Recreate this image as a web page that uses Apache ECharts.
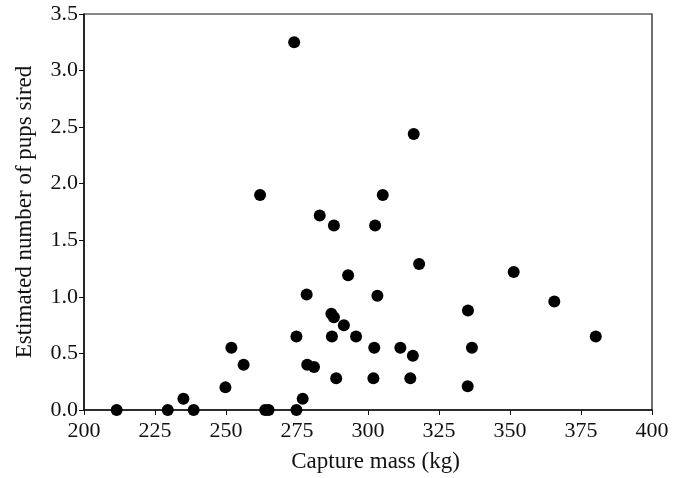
<!DOCTYPE html>
<html>
<head>
<meta charset="utf-8">
<script src="https://cdn.jsdelivr.net/npm/echarts@6/dist/echarts.min.js"></script>
<style>
  html, body { margin: 0; padding: 0; background: #fff; }
  #chart { width: 680px; height: 478px; }
</style>
</head>
<body>
<div id="chart"></div>
<script>
// capture mass (kg) of each male
var captureMass = [
  211.5, 229.5, 235, 238.6, 249.8, 251.9, 256.2, 263.8, 265, 274.8,
  274.8, 277, 278.4, 278.6, 281, 287.1, 288, 291.5, 287.3, 288.8,
  293, 295.8, 301.9, 302.2, 303.3, 274, 262, 283, 288, 302.5,
  305.2, 316.1, 318, 351.3, 365.6, 335.2, 380.2, 311.4, 315.8, 336.6,
  314.9, 335.1
];
// estimated number of pups sired, same order
var pupsSired = [
  0, 0, 0.1, 0, 0.2, 0.55, 0.4, 0, 0, 0,
  0.65, 0.1, 1.02, 0.4, 0.38, 0.85, 0.82, 0.75, 0.65, 0.28,
  1.19, 0.65, 0.28, 0.55, 1.01, 3.25, 1.9, 1.72, 1.63, 1.63,
  1.9, 2.44, 1.29, 1.22, 0.96, 0.88, 0.65, 0.55, 0.48, 0.55,
  0.28, 0.21
];
var xTicks = [200, 400, 25];   // min, max, step
var yTicks = [0, 3.5, 0.5];

var chart = echarts.init(document.getElementById('chart'));

var points = captureMass.map(function (m, i) { return [m, pupsSired[i]]; });

var font = 'Liberation Serif';

var option = {
  animation: false,
  grid: {
    left: 84, right: 28, top: 14, bottom: 68,
    show: true, borderColor: '#111', borderWidth: 1.2
  },
  xAxis: {
    type: 'value',
    min: xTicks[0], max: xTicks[1], interval: xTicks[2],
    name: 'Capture mass (kg)',
    nameLocation: 'middle',
    nameGap: 40,
    nameTextStyle: { fontFamily: font, fontSize: 23, color: '#111', padding: [0, 0, 0, 15] },
    axisLine: { lineStyle: { color: '#111', width: 1.5 } },
    axisTick: { show: true, length: 5, lineStyle: { color: '#111' } },
    axisLabel: { fontFamily: font, fontSize: 22, color: '#111', margin: 10 },
    splitLine: { show: false }
  },
  yAxis: {
    type: 'value',
    min: yTicks[0], max: yTicks[1], interval: yTicks[2],
    name: 'Estimated number of pups sired',
    nameLocation: 'middle',
    nameGap: 48,
    nameTextStyle: { fontFamily: font, fontSize: 23, color: '#111' },
    axisLine: { show: true, lineStyle: { color: '#111', width: 1.5 } },
    axisTick: { show: true, length: 5, lineStyle: { color: '#111' } },
    axisLabel: {
      fontFamily: font, fontSize: 22, color: '#111', margin: 6,
      formatter: function (v) { return v.toFixed(1); }
    },
    splitLine: { show: false }
  },
  series: [{
    type: 'scatter',
    data: points,
    symbol: 'circle',
    symbolSize: 12,
    itemStyle: { color: '#000', opacity: 1 }
  }]
};

chart.setOption(option);
</script>
</body>
</html>
